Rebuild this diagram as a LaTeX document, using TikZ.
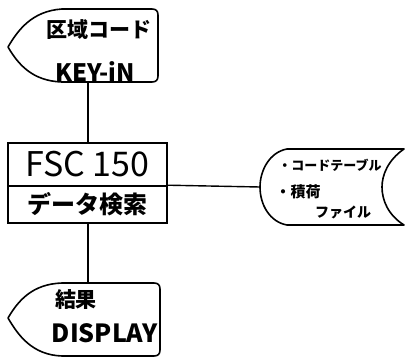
\documentclass[tikz,border=0pt]{standalone}
\usepackage{fontspec}
\setmainfont{Noto Sans CJK JP}
\begin{document}
\begin{tikzpicture}[x=1pt,y=-1pt,
  line width=1.6pt,
  outline/.style={draw=black,line width=1.6pt,line join=round},
  conn/.style={draw=black,line width=1.4pt},
  boxpart/.style={draw=black,line width=1.6pt,minimum width=159pt,inner sep=0pt,anchor=center},
  txt/.style={inner sep=0pt,anchor=center,text=black}]
\useasboundingbox (0,0) rectangle (405,359);
% top display (input) shape
\draw[outline] (8,47) .. controls (18,30) and (32,11) .. (62,9) -- (152,9) .. controls (156,9) and (158,11) .. (158,15) -- (158,76) .. controls (158,80) and (156,82) .. (152,82) -- (62,82) .. controls (32,81) and (18,64) .. cycle;
\coordinate (ins) at (88,82);
\node[txt,font=\fontsize{21}{21}\selectfont\bfseries] (t1) at (99,30) {区域コード};
\node[txt,font=\fontsize{24}{24}\selectfont\bfseries] (t2) at (95,72) {KEY-iN};
% process box
\node[boxpart,minimum height=43pt,font=\fontsize{34}{34}\selectfont] (fsc) at (87.5,164.5) {FSC 150};
\node[boxpart,minimum height=37pt,font=\fontsize{24}{24}\selectfont\bfseries] (search) at (87.5,204.5) {データ検索};
% storage shape
\draw[outline] (260,187) .. controls (260,170) and (270,152) .. (287,149) -- (404,149) .. controls (388,160) and (382,175) .. (382,187) .. controls (382,200) and (388,215) .. (404,225) -- (287,225) .. controls (270,222) and (260,205) .. cycle;
\coordinate (stw) at (260,187);
\node[txt,font=\fontsize{13}{13}\selectfont\bfseries] (t3) at (330,165) {・コードテーブル};
\node[txt,font=\fontsize{15}{15}\selectfont\bfseries] (t4) at (298,192) {・積荷};
\node[txt,font=\fontsize{14}{14}\selectfont\bfseries] (t5) at (343,212) {ファイル};
% bottom display shape
\draw[outline] (8,318) .. controls (18,301) and (32,284) .. (62,283) -- (154,283) .. controls (158,283) and (160,285) .. (160,289) -- (160,350) .. controls (160,354) and (158,356) .. (154,356) -- (62,356) .. controls (32,355) and (18,335) .. cycle;
\coordinate (outn) at (88,283);
\node[txt,font=\fontsize{21}{21}\selectfont\bfseries] (t6) at (76,300) {結果};
\node[txt,font=\fontsize{25}{25}\selectfont\bfseries] (t7) at (105,333) {DISPLAY};
% connectors
\draw[conn] (ins) -- (fsc.north -| ins);
\draw[conn] (search.south -| ins) -- (outn);
\draw[conn] (search.north east) -- (stw);
\end{tikzpicture}
\end{document}
